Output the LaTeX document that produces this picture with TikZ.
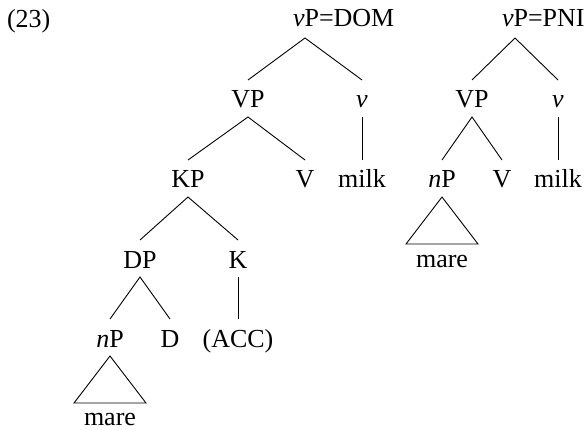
\documentclass[tikz,border=0pt]{standalone}
\usepackage{fontspec}
\setmainfont{Liberation Serif}
\begin{document}
\begin{tikzpicture}[x=1pt,y=-1pt,
  lbl/.style={inner sep=0pt,outer sep=0pt,anchor=base,font=\fontsize{26}{31}\selectfont},
  br/.style={line width=0.9pt}]
\useasboundingbox (0,0) rectangle (585,430);
% labels
\node[lbl,anchor=base west] (ex) at (7,28) {(23)};
% left tree
\node[lbl,anchor=base west] (dom) at (293,27) {\textit{v}P=DOM};
\coordinate (domtop) at (305,38);
\node[lbl] (vp1) at (248,108) {VP};
\node[lbl] (v1) at (362,108) {\textit{v}};
\node[lbl] (kp) at (188,188) {KP};
\node[lbl] (V1) at (305,188) {V};
\node[lbl] (milk1) at (362,188) {milk};
\node[lbl] (dp) at (140,268) {DP};
\node[lbl] (k) at (238,268) {K};
\node[lbl] (np1) at (110,347) {\textit{n}P};
\node[lbl] (d) at (170,347) {D};
\node[lbl] (acc) at (238,347) {(ACC)};
\node[lbl] (mare1) at (110,425) {mare};
% right tree
\node[lbl,anchor=base west] (pni) at (502,27) {\textit{v}P=PNI};
\coordinate (pnitop) at (515,38);
\node[lbl] (vp2) at (472,108) {VP};
\node[lbl] (v2) at (558,108) {\textit{v}};
\node[lbl] (np2) at (442,188) {\textit{n}P};
\node[lbl] (V2) at (502,188) {V};
\node[lbl] (milk2) at (558,188) {milk};
\node[lbl] (mare2) at (442,267) {mare};
% branches
\draw[br] ([yshift=28pt]vp1.base) -- (domtop) -- ([yshift=28pt]v1.base);
\draw[br] ([yshift=28pt]kp.base) -- ([yshift=-9pt]vp1.base) -- ([yshift=28pt]V1.base);
\draw[br] ([yshift=-9pt]v1.base) -- ([yshift=28pt]milk1.base);
\draw[br] ([yshift=28pt]dp.base) -- ([yshift=-9pt]kp.base) -- ([yshift=28pt]k.base);
\draw[br] ([yshift=28pt]np1.base) -- ([yshift=-9pt]dp.base) -- ([yshift=28pt]d.base);
\draw[br] ([yshift=-9pt]k.base) -- ([yshift=28pt]acc.base);
\draw[br] ([yshift=-9pt]np1.base) -- ([shift={(-36pt,22pt)}]mare1.base) -- ([shift={(36pt,22pt)}]mare1.base) -- cycle;
\draw[br] ([yshift=28pt]vp2.base) -- (pnitop) -- ([yshift=28pt]v2.base);
\draw[br] ([yshift=28pt]np2.base) -- ([yshift=-9pt]vp2.base) -- ([yshift=28pt]V2.base);
\draw[br] ([yshift=-9pt]v2.base) -- ([yshift=28pt]milk2.base);
\draw[br] ([yshift=-9pt]np2.base) -- ([shift={(-36pt,23pt)}]mare2.base) -- ([shift={(36pt,23pt)}]mare2.base) -- cycle;
\end{tikzpicture}
\end{document}
